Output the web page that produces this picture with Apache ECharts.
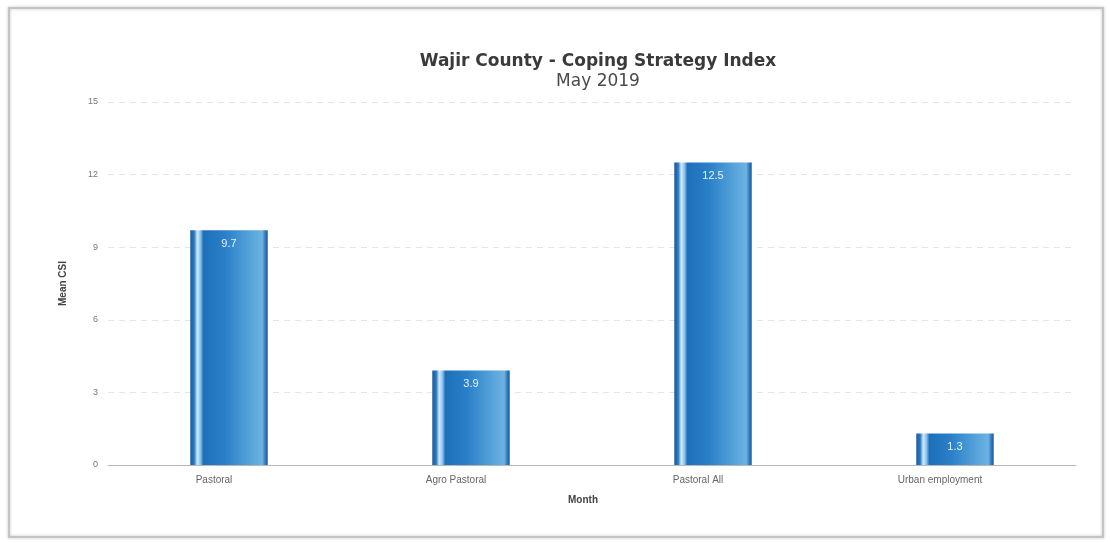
<!DOCTYPE html>
<html>
<head>
<meta charset="utf-8">
<title>Wajir County - Coping Strategy Index</title>
<script src="https://cdn.jsdelivr.net/npm/echarts@6/dist/echarts.min.js"></script>
<style>
  html, body { margin: 0; padding: 0; background: #ffffff; }
  #chart { width: 1110px; height: 542px; }
</style>
</head>
<body>
<div id="chart"></div>
<script>
// Livelihood zones and their mean Coping Strategy Index values
const categories = ['Pastoral', 'Agro Pastoral', 'Pastoral All', 'Urban employment'];
const meanCsi = [9.7, 3.9, 12.5, 1.3];
const yTicks = { min: 0, max: 15, interval: 3 };

// Cylinder-like shading across each bar
const barFill = new echarts.graphic.LinearGradient(0, 0, 1, 0, [
  { offset: 0.00, color: '#1a5c9c' },
  { offset: 0.05, color: '#2a78c0' },
  { offset: 0.09, color: '#d4ebfa' },
  { offset: 0.13, color: '#8cc4ec' },
  { offset: 0.17, color: '#1e6fba' },
  { offset: 0.45, color: '#2a80c8' },
  { offset: 0.80, color: '#5aa6dc' },
  { offset: 0.93, color: '#6eb2e2' },
  { offset: 0.97, color: '#2f78bb' },
  { offset: 1.00, color: '#1b5a98' }
]);

const chart = echarts.init(document.getElementById('chart'), null, { renderer: 'canvas' });

chart.setOption({
  backgroundColor: '#ffffff',
  animation: false,
  title: {
    text: 'Wajir County - Coping Strategy Index',
    subtext: 'May 2019',
    left: 593,
    textAlign: 'center',
    top: 48,
    itemGap: 3,
    textStyle: { fontFamily: 'DejaVu Sans, sans-serif', fontSize: 17, fontWeight: 'bold', color: '#3a3a3a' },
    subtextStyle: { fontFamily: 'DejaVu Sans, sans-serif', fontSize: 17, color: '#4a4a4a' }
  },
  graphic: [{
    type: 'rect',
    shape: { x: 9, y: 8, width: 1094, height: 529 },
    style: { fill: 'none', stroke: '#c4c4c4', lineWidth: 2, shadowBlur: 3, shadowColor: 'rgba(0,0,0,0.25)' },
    silent: true
  }],
  grid: { left: 108, right: 34, top: 102, bottom: 77 },
  xAxis: {
    type: 'category',
    data: categories,
    name: 'Month',
    nameLocation: 'middle',
    nameGap: 30,
    nameTextStyle: { fontFamily: 'Liberation Sans, Arial, sans-serif', fontSize: 10, fontWeight: 'bold', color: '#444444', padding: [0, 18, 0, 0] },
    axisLine: { lineStyle: { color: '#b8b8b8', width: 1 } },
    axisTick: { show: false },
    axisLabel: { fontFamily: 'Liberation Sans, Arial, sans-serif', fontSize: 10, color: '#666666', margin: 10, padding: [0, 30, 0, 0] }
  },
  yAxis: {
    type: 'value',
    min: yTicks.min,
    max: yTicks.max,
    interval: yTicks.interval,
    name: 'Mean CSI',
    nameLocation: 'middle',
    nameGap: 40,
    nameTextStyle: { fontFamily: 'Liberation Sans, Arial, sans-serif', fontSize: 10, fontWeight: 'bold', color: '#444444' },
    axisLine: { show: false },
    axisTick: { show: false },
    axisLabel: { fontFamily: 'Liberation Sans, Arial, sans-serif', fontSize: 9, color: '#777777', margin: 10 },
    splitLine: { lineStyle: { color: '#e4e4e4', type: [6, 5], width: 1 } }
  },
  series: [{
    type: 'bar',
    data: meanCsi,
    barWidth: '32%',
    itemStyle: { color: barFill },
    label: {
      show: true,
      position: 'insideTop',
      distance: 8,
      formatter: p => p.value.toFixed(1),
      fontFamily: 'Liberation Sans, Arial, sans-serif',
      fontSize: 11,
      color: '#e8f3fc'
    }
  }]
});
</script>
</body>
</html>
